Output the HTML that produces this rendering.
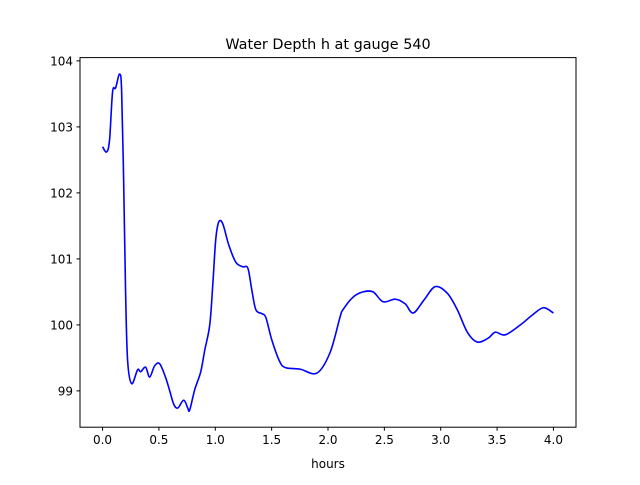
<!DOCTYPE html>
<html><head><meta charset="utf-8"><style>
body{margin:0;background:#fff;}
text{font-family:"DejaVu Sans","Liberation Sans",sans-serif;}
</style></head><body>
<svg id="chart" width="640" height="480" xmlns="http://www.w3.org/2000/svg">
<rect width="640" height="480" fill="#fff"/>
<text x="328" y="49" text-anchor="middle" font-size="14.4">Water Depth h at gauge 540</text>
<text x="328" y="468" text-anchor="middle" font-size="12">hours</text>
<g id="ticks"></g>
<path id="line" fill="none" stroke="#0000ff" stroke-width="1.6" stroke-linejoin="round"/>
<rect x="80" y="57.6" width="496" height="369.6" fill="none" stroke="#000" stroke-width="1"/>
</svg>
<script>
const hours=[0,0.036,0.062,0.089,0.116,0.151,0.169,0.187,0.204,0.222,0.258,0.311,0.338,0.382,0.418,0.462,0.507,0.560,0.596,0.631,0.667,0.720,0.756,0.773,0.818,0.871,0.907,0.951,0.978,1.004,1.031,1.067,1.120,1.182,1.244,1.289,1.324,1.360,1.413,1.449,1.502,1.573,1.627,1.751,1.902,2.018,2.107,2.133,2.222,2.311,2.400,2.489,2.596,2.684,2.756,2.853,2.951,3.058,3.147,3.236,3.324,3.422,3.484,3.573,3.707,3.813,3.911,4.000];
const depth=[102.70,102.62,102.80,103.53,103.59,103.80,103.56,102.20,100.53,99.47,99.11,99.32,99.29,99.36,99.21,99.38,99.41,99.20,99.00,98.80,98.74,98.86,98.74,98.71,99.02,99.29,99.62,100.00,100.61,101.29,101.56,101.53,101.21,100.95,100.88,100.86,100.53,100.23,100.17,100.11,99.77,99.44,99.35,99.33,99.27,99.58,100.12,100.23,100.42,100.50,100.50,100.35,100.39,100.32,100.18,100.38,100.58,100.48,100.23,99.89,99.74,99.80,99.89,99.85,100.00,100.15,100.26,100.18];
const xTicks=[0,0.5,1.0,1.5,2.0,2.5,3.0,3.5,4.0];
const yTicks=[99,100,101,102,103,104];
const L=80,R=576,T=57.6,B=427.2, x0=-0.2,x1=4.2,y0=98.45,y1=104.05;
const X=v=>L+(v-x0)/(x1-x0)*(R-L);
const Y=v=>B-(v-y0)/(y1-y0)*(B-T);
const NS="http://www.w3.org/2000/svg";
const g=document.getElementById('ticks');
xTicks.forEach(t=>{
 const l=document.createElementNS(NS,'line');
 
 
 l.setAttribute('x1',X(t));l.setAttribute('x2',X(t));l.setAttribute('y1',B);l.setAttribute('y2',B+3.5);l.setAttribute('stroke','#000');
 g.appendChild(l);
 const s=document.createElementNS(NS,'text');
 
 
 s.setAttribute('x',X(t));s.setAttribute('y',B+17);s.setAttribute('text-anchor','middle');s.setAttribute('font-size','12');
 s.textContent=t.toFixed(1);g.appendChild(s);
});
yTicks.forEach(t=>{
 const l=document.createElementNS(NS,'line');
 
 
 l.setAttribute('x1',L-3.5);l.setAttribute('x2',L);l.setAttribute('y1',Y(t));l.setAttribute('y2',Y(t));l.setAttribute('stroke','#000');
 g.appendChild(l);
 const s=document.createElementNS(NS,'text');
 
 
 s.setAttribute('x',L-7);s.setAttribute('y',Y(t)+4.5);s.setAttribute('text-anchor','end');s.setAttribute('font-size','12');
 s.textContent=String(t);g.appendChild(s);
});
const P=hours.map((h,i)=>[X(h),Y(depth[i])]);
let d='M'+P[0][0]+','+P[0][1];
for(let i=0;i<P.length-1;i++){
 const p0=P[i-1]||P[i],p1=P[i],p2=P[i+1],p3=P[i+2]||P[i+1];
 const c1=[p1[0]+(p2[0]-p0[0])/6,p1[1]+(p2[1]-p0[1])/6];
 const c2=[p2[0]-(p3[0]-p1[0])/6,p2[1]-(p3[1]-p1[1])/6];
 d+=' C'+c1+' '+c2+' '+p2;
}
document.getElementById('line').setAttribute('d',d);
</script>
</body></html>
